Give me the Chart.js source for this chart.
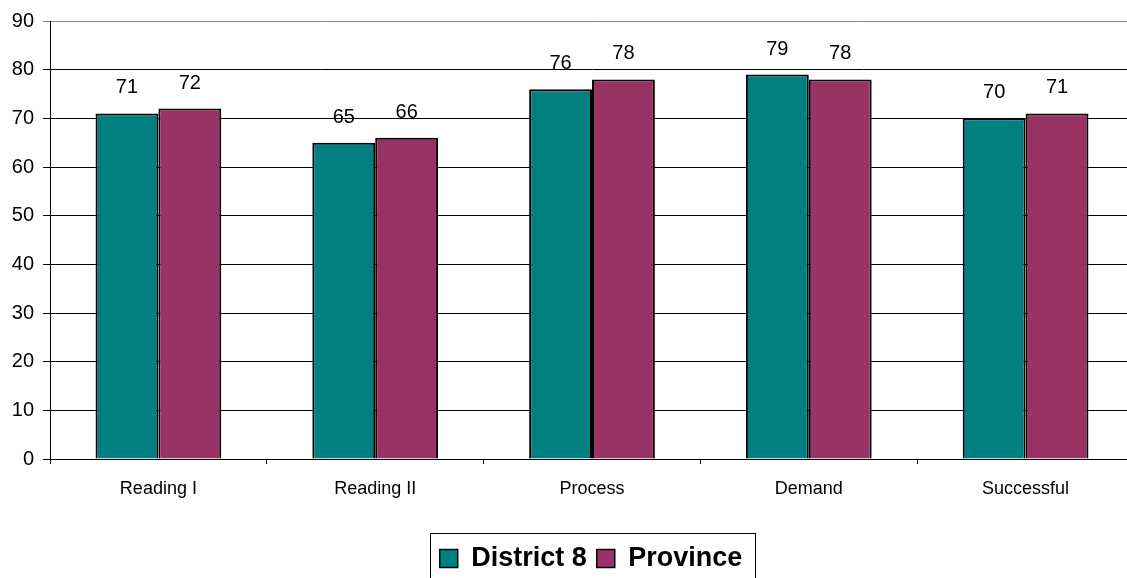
<!DOCTYPE html>
<html>
<head>
<meta charset="utf-8">
<script src="https://cdn.jsdelivr.net/npm/chart.js@4"></script>
<style>
  html, body { margin: 0; padding: 0; background: #fff; overflow: hidden; }
  #wrap { width: 1134px; height: 578px; overflow: hidden; }
</style>
</head>
<body>
<div id="wrap"><canvas id="chart" width="1134" height="582"></canvas></div>
<script>
// Scores by reading skill, district vs province
const categories = ['Reading I', 'Reading II', 'Process', 'Demand', 'Successful'];
const district8 = [71, 65, 76, 79, 70];
const province = [72, 66, 78, 78, 71];
const seriesNames = ['District 8', 'Province'];
const yTicks = [0, 10, 20, 30, 40, 50, 60, 70, 80, 90];

const FONT = '"Liberation Sans", Arial, Helvetica, sans-serif';

// Value labels above each bar
const valueLabels = {
  id: 'valueLabels',
  afterDatasetsDraw(chart) {
    const ctx = chart.ctx;
    ctx.save();
    ctx.font = '20px ' + FONT;
    ctx.fillStyle = '#000';
    ctx.textAlign = 'center';
    ctx.textBaseline = 'alphabetic';
    chart.data.datasets.forEach((ds, di) => {
      chart.getDatasetMeta(di).data.forEach((bar, i) => {
        ctx.fillText(String(ds.data[i]), bar.x, bar.y - 20);
      });
    });
    ctx.restore();
  }
};

// Legend sits a little right of centre, inside a thin frame
const legendFrame = {
  id: 'legendFrame',
  afterLayout(chart) {
    const lg = chart.legend;
    if (lg) { lg.left += 24; lg.right += 24; }
  },
  afterDraw(chart) {
    const lg = chart.legend;
    if (!lg || !lg.legendHitBoxes || !lg.legendHitBoxes.length) return;
    const boxes = lg.legendHitBoxes;
    const left = Math.min(...boxes.map(b => b.left)) - 10;
    const right = Math.max(...boxes.map(b => b.left + b.width)) + 12;
    const top = Math.min(...boxes.map(b => b.top)) - 12;
    const ctx = chart.ctx;
    ctx.save();
    ctx.strokeStyle = '#000';
    ctx.lineWidth = 1;
    ctx.strokeRect(Math.round(left) + 0.5, Math.round(top) + 0.5, Math.round(right - left), 80);
    ctx.restore();
  }
};

new Chart(document.getElementById('chart'), {
  type: 'bar',
  data: {
    labels: categories,
    datasets: [
      { label: seriesNames[0], data: district8, backgroundColor: '#008080', borderColor: '#000', borderWidth: 2 },
      { label: seriesNames[1], data: province, backgroundColor: '#993366', borderColor: '#000', borderWidth: 2 }
    ]
  },
  options: {
    responsive: false,
    animation: false,
    devicePixelRatio: 1,
    layout: { padding: { top: 20, right: 0, bottom: 0, left: 0 } },
    datasets: { bar: { categoryPercentage: 0.58, barPercentage: 1.0 } },
    plugins: {
      tooltip: { enabled: false },
      legend: {
        position: 'bottom',
        labels: {
          font: { family: FONT, size: 27, weight: 'bold' },
          color: '#000',
          boxWidth: 18,
          boxHeight: 18,
          padding: 10,
          generateLabels(chart) {
            return chart.data.datasets.map((ds, i) => ({
              text: ds.label,
              fillStyle: ds.backgroundColor,
              strokeStyle: '#000',
              lineWidth: 1.5,
              fontColor: '#000',
              datasetIndex: i
            }));
          }
        }
      }
    },
    scales: {
      x: {
        afterFit(scale) { scale.height = 76; },
        border: { display: true, color: '#000', width: 1 },
        grid: { display: true, offset: true, drawOnChartArea: false, color: '#000', tickLength: 5 },
        ticks: { font: { family: FONT, size: 18 }, color: '#000', padding: 14, maxRotation: 0 }
      },
      y: {
        min: 0,
        max: 90,
        afterFit(scale) { scale.width = 50; },
        afterBuildTicks(scale) { scale.ticks = yTicks.map(v => ({ value: v })); },
        border: { display: true, color: '#000', width: 1 },
        grid: {
          color: ctx => (ctx.tick && ctx.tick.value === 90 ? '#808080' : '#000'),
          lineWidth: 1,
          tickLength: 7
        },
        ticks: { font: { family: FONT, size: 20 }, color: '#000', padding: 9 }
      }
    }
  },
  plugins: [valueLabels, legendFrame]
});
</script>
</body>
</html>
